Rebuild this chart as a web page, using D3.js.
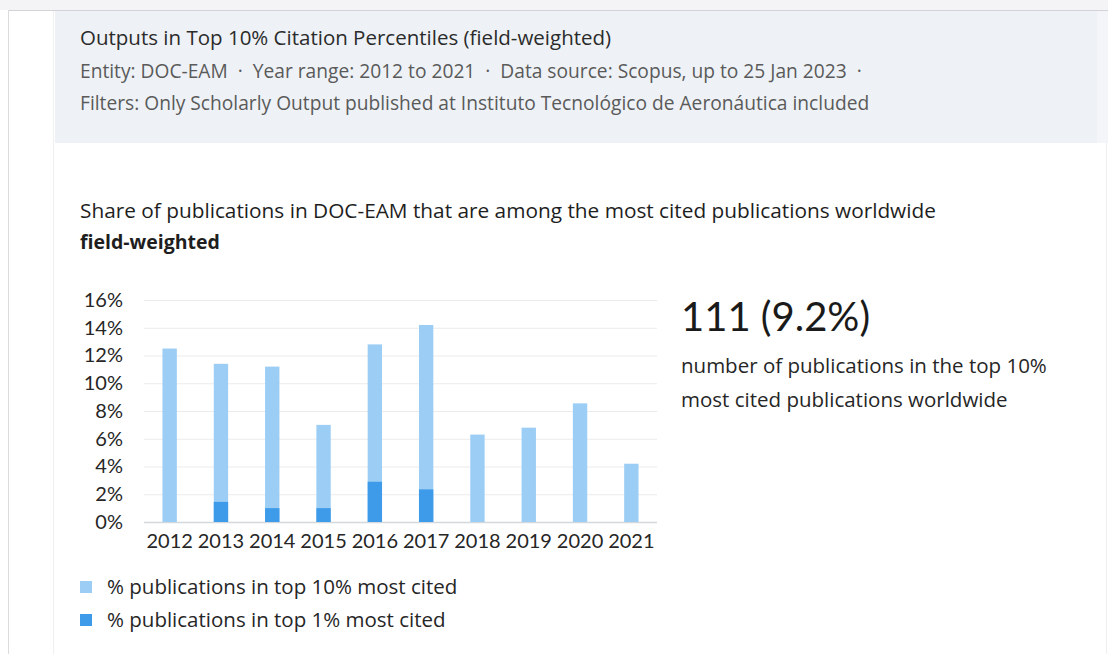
<!DOCTYPE html>
<html>
<head>
<meta charset="utf-8">
<script src="https://cdn.jsdelivr.net/npm/d3@7"></script>
<style>
  html, body { margin: 0; padding: 0; background: #ffffff; }
  svg { display: block; font-family: "Open Sans", Lato, sans-serif; }
</style>
</head>
<body>
<svg id="chart" width="1108" height="654"></svg>
<script>
// Publication years
const years = ["2012", "2013", "2014", "2015", "2016", "2017", "2018", "2019", "2020", "2021"];
// Share of outputs in the top 10% most cited worldwide (%)
const top10 = [12.5, 11.4, 11.2, 7.0, 12.8, 14.2, 6.3, 6.8, 8.55, 4.2];
// Share of outputs in the top 1% most cited worldwide (%)
const top1 = [0, 1.45, 1.0, 1.0, 2.9, 2.35, 0, 0, 0, 0];
// Y axis ticks (%)
const yTicks = [0, 2, 4, 6, 8, 10, 12, 14, 16];

const seriesNames = ["% publications in top 10% most cited", "% publications in top 1% most cited"];
const seriesColors = ["#9ccdf4", "#3d9be9"];

const headerLines = [
  "Outputs in Top 10% Citation Percentiles (field-weighted)",
  "Entity: DOC-EAM  \u00b7  Year range: 2012 to 2021  \u00b7  Data source: Scopus, up to 25 Jan 2023  \u00b7",
  "Filters: Only Scholarly Output published at Instituto Tecnol\u00f3gico de Aeron\u00e1utica included"
];
const chartTitle = "Share of publications in DOC-EAM that are among the most cited publications worldwide";
const chartSubtitle = "field-weighted";
const kpiValue = "111 (9.2%)";
const kpiText = ["number of publications in the top 10%", "most cited publications worldwide"];

const svg = d3.select("#chart");

// Page frame
svg.append("rect").attr("x", 0).attr("y", 0).attr("width", 1108).attr("height", 10).attr("fill", "#f4f4f6");
svg.append("line").attr("x1", 8).attr("x2", 1108).attr("y1", 10.5).attr("y2", 10.5).attr("stroke", "#d3d3d7");
svg.append("line").attr("x1", 8.5).attr("x2", 8.5).attr("y1", 10).attr("y2", 654).attr("stroke", "#dcdcdc");
svg.append("line").attr("x1", 53.5).attr("x2", 53.5).attr("y1", 11).attr("y2", 654).attr("stroke", "#f0f0f0");
svg.append("line").attr("x1", 1106.5).attr("x2", 1106.5).attr("y1", 143).attr("y2", 654).attr("stroke", "#eeeeee");

// Header panel
svg.append("rect").attr("x", 55).attr("y", 11).attr("width", 1042).attr("height", 132).attr("fill", "#eef2f6");
svg.append("rect").attr("x", 1097).attr("y", 11).attr("width", 11).attr("height", 132).attr("fill", "#f3f5f8");

const header = svg.append("g").attr("transform", "translate(80,0)");
header.append("text").attr("y", 45).attr("font-size", 20.5).attr("fill", "#2b2b2b").text(headerLines[0]);
header.append("text").attr("y", 78).attr("font-size", 19.2).attr("fill", "#5a5a5a").attr("xml:space", "preserve").style("white-space", "pre").text(headerLines[1]);
header.append("text").attr("y", 110).attr("font-size", 19.2).attr("fill", "#5a5a5a").text(headerLines[2]);

// Chart title
svg.append("text").attr("x", 80).attr("y", 218).attr("font-size", 20.8).attr("fill", "#1e1e1e").text(chartTitle);
svg.append("text").attr("x", 80).attr("y", 249).attr("font-size", 19.5).attr("font-weight", "bold").attr("fill", "#1e1e1e").text(chartSubtitle);

// Plot area
const plot = { left: 144, right: 657, top: 300, bottom: 522 };

const x = d3.scaleBand().domain(years).range([plot.left, plot.right]).paddingInner(0.72).paddingOuter(0.36);
const y = d3.scaleLinear().domain([0, 16]).range([plot.bottom, plot.top]);

// Gridlines
svg.append("g")
  .selectAll("line")
  .data(yTicks)
  .join("line")
  .attr("x1", plot.left).attr("x2", plot.right)
  .attr("y1", d => y(d) + 0.5).attr("y2", d => y(d) + 0.5)
  .attr("stroke", d => d === 0 ? "#d3d8dd" : "#ebebeb")
  .attr("stroke-width", d => d === 0 ? 1.5 : 1);

// Y axis labels
const yAxis = svg.append("g")
  .attr("transform", `translate(${plot.left - 21},0)`)
  .call(d3.axisLeft(y).tickValues(yTicks).tickFormat(d => d + "%").tickSize(0).tickPadding(0));
yAxis.select(".domain").remove();
yAxis.selectAll("text").attr("font-size", 20).attr("font-family", "Lato, sans-serif").attr("fill", "#262626");

// X axis labels
const xAxis = svg.append("g")
  .attr("transform", `translate(0,${plot.bottom})`)
  .call(d3.axisBottom(x).tickSize(0).tickPadding(12));
xAxis.select(".domain").remove();
xAxis.selectAll("text").attr("font-size", 20).attr("font-family", "Lato, sans-serif").attr("fill", "#262626");

// Bars: top 10% share, overlaid with top 1% share
svg.append("g")
  .selectAll("rect")
  .data(years.map((yr, i) => ({ yr, v: top10[i] })))
  .join("rect")
  .attr("x", d => x(d.yr)).attr("width", x.bandwidth())
  .attr("y", d => y(d.v)).attr("height", d => y(0) - y(d.v))
  .attr("fill", seriesColors[0]);

svg.append("g")
  .selectAll("rect")
  .data(years.map((yr, i) => ({ yr, v: top1[i] })).filter(d => d.v > 0))
  .join("rect")
  .attr("x", d => x(d.yr)).attr("width", x.bandwidth())
  .attr("y", d => y(d.v)).attr("height", d => y(0) - y(d.v))
  .attr("fill", seriesColors[1]);

// Headline figure
svg.append("text").attr("x", 681).attr("y", 331).attr("font-size", 40).attr("font-family", "Lato, sans-serif").attr("fill", "#1a1a1a").text(kpiValue);
svg.append("g").selectAll("text").data(kpiText).join("text")
  .attr("x", 681).attr("y", (d, i) => 373 + i * 34)
  .attr("font-size", 20.5).attr("fill", "#262626").text(d => d);

// Legend
const legend = svg.append("g").attr("transform", "translate(80,581)");
const li = legend.selectAll("g").data(seriesNames).join("g")
  .attr("transform", (d, i) => `translate(0,${i * 33})`);
li.append("rect").attr("width", 12).attr("height", 12).attr("fill", (d, i) => seriesColors[i]);
li.append("text").attr("x", 27).attr("y", 13).attr("font-size", 20.5).attr("fill", "#262626").text(d => d);
</script>
</body>
</html>
